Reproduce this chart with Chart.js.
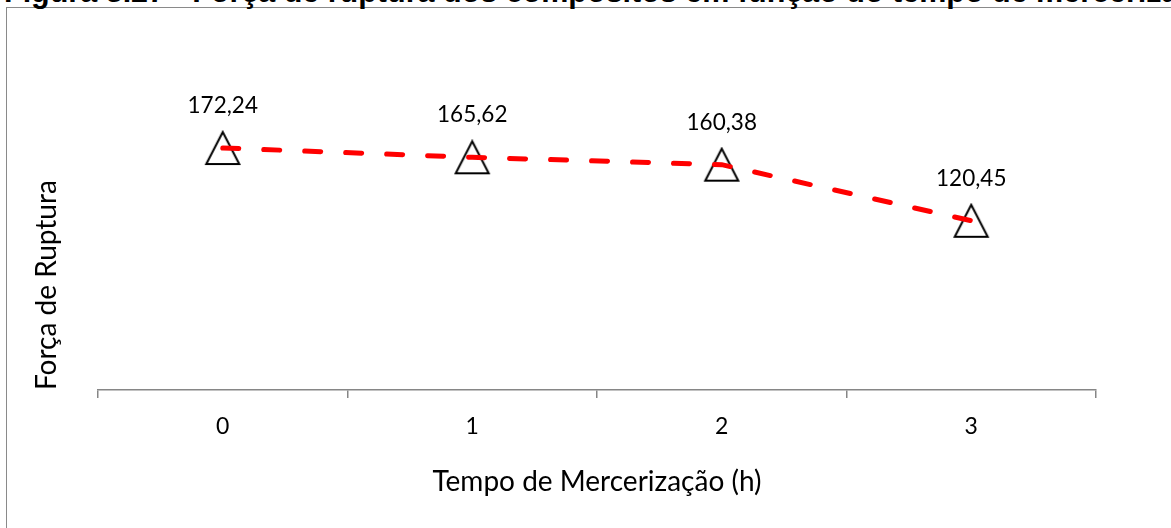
<!DOCTYPE html>
<html>
<head>
<meta charset="utf-8">
<script src="https://cdn.jsdelivr.net/npm/chart.js@4/dist/chart.umd.min.js"></script>
<style>
    html, body { margin: 0; padding: 0; background: #fff; overflow: hidden; }
    #wrap { position: relative; width: 1171px; height: 528px; overflow: hidden; }
    #frame { position: absolute; left: 6px; top: 7px; width: 1200px; height: 600px; border: 1.5px solid #8a8a8a; }
    #caption { position: absolute; left: 4px; top: -24px; font: bold 30.5px "Liberation Sans", Arial, sans-serif; line-height: 30px; white-space: nowrap; }
    canvas { position: absolute; left: 0; top: 0; }
</style>
</head>
<body>
<div id="wrap">
    <div id="frame"></div>
    <div id="caption">Figura 3.27 - Força de ruptura dos compósitos em função do tempo de mercerização</div>
    <canvas id="chartRuptura" width="1171" height="528"></canvas>
</div>
<script>
const categorias = ['0', '1', '2', '3'];
const forcaRuptura = [172.24, 165.62, 160.38, 120.45];
const yLimites = [0, 200];

const FONT = 'Lato, "Open Sans", sans-serif';

// triangle marker, centred on its bounding box like the spreadsheet one
function makeTriangle() {
    const c = document.createElement('canvas');
    c.width = 38;
    c.height = 36;
    const g = c.getContext('2d');
    g.strokeStyle = '#000';
    g.lineWidth = 2;
    g.lineJoin = 'miter';
    g.beginPath();
    g.moveTo(19, 2);
    g.lineTo(2.5, 34);
    g.lineTo(35.5, 34);
    g.closePath();
    g.stroke();
    return c;
}

// value labels above each marker, with a decimal comma
const rotulos = {
    id: 'rotulos',
    afterDatasetsDraw(chart) {
        const meta = chart.getDatasetMeta(1);
        const ctx = chart.ctx;
        ctx.save();
        ctx.font = '22.5px ' + FONT;
        ctx.fillStyle = '#000';
        ctx.textAlign = 'center';
        ctx.textBaseline = 'alphabetic';
        meta.data.forEach((pt, i) => {
            const txt = forcaRuptura[i].toFixed(2).replace('.', ',');
            ctx.fillText(txt, pt.x, pt.y - 35);
        });
        ctx.restore();
    }
};

new Chart(document.getElementById('chartRuptura'), {
    type: 'line',
    data: {
        labels: categorias,
        datasets: [
            {
                label: 'linha',
                data: forcaRuptura,
                borderColor: '#ff0000',
                borderWidth: 5,
                borderDash: [16, 25],
                borderCapStyle: 'round',
                pointRadius: 0,
                fill: false,
                tension: 0,
                order: 1
            },
            {
                label: 'marcadores',
                data: forcaRuptura,
                showLine: false,
                pointStyle: makeTriangle(),
                pointRadius: 18,
                order: 2
            }
        ]
    },
    options: {
        responsive: false,
        animation: false,
        layout: { padding: { left: 0, top: 109, right: 75, bottom: 0 } },
        plugins: { legend: { display: false }, tooltip: { enabled: false } },
        scales: {
            x: {
                offset: true,
                grid: { display: true, offset: true, drawOnChartArea: false, tickLength: 8, color: '#868686', lineWidth: 1.5 },
                border: { display: true, color: '#868686', width: 1.5 },
                ticks: { color: '#000', font: { family: FONT, size: 23 }, padding: 15 },
                title: { display: true, text: 'Tempo de Mercerização (h)', color: '#000', font: { family: FONT, size: 28 }, padding: { top: 4, bottom: 29 } },
                afterFit(scale) { scale.height = 138; }
            },
            y: {
                min: yLimites[0],
                max: yLimites[1],
                grid: { display: false },
                border: { display: false },
                ticks: { display: false },
                title: { display: true, text: 'Força de Ruptura', align: 'start', color: '#000', font: { family: FONT, size: 28 }, padding: { top: 30, bottom: 4 } },
                afterFit(scale) { scale.width = 98; }
            }
        }
    },
    plugins: [rotulos]
});
</script>
</body>
</html>
